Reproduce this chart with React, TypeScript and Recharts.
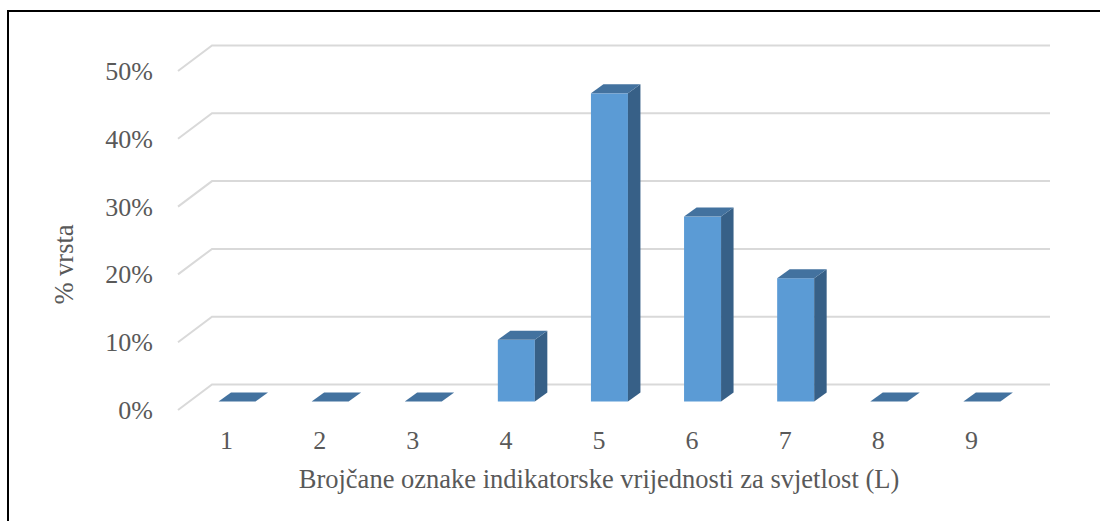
import React from "react";
import { BarChart, Bar, XAxis, YAxis, CartesianGrid, Label } from "recharts";

const categories = ["1", "2", "3", "4", "5", "6", "7", "8", "9"];
const shares = [0, 0, 0, 0.0909, 0.4545, 0.2727, 0.1818, 0, 0];
const yTicks = [0, 0.1, 0.2, 0.3, 0.4, 0.5];

const data = categories.map((name, i) => ({ name, value: shares[i] }));

const FONT = "Liberation Serif";
const TEXT = "#595959";
const tickTxt = { fontFamily: FONT, fontSize: 26, fill: TEXT };
const titleTxt = { fontFamily: FONT, fontSize: 26.5, fill: TEXT };

// oblique 3D offsets (Excel-style depth)
const WALL_DX = 32;
const WALL_DY = -25.5;
const BAR_DX = 10.5;
const BAR_DY = -8.5;
const DEPTH_DX = 12.5;
const DEPTH_DY = -9;

const GridLine = (p: any) => (
  <path
    key={p.key}
    d={`M${p.x1 - 2},${p.y1} L${p.x1 + WALL_DX},${p.y1 + WALL_DY} L${p.x2 + WALL_DX},${p.y1 + WALL_DY}`}
    stroke="#D9D9D9"
    strokeWidth={2}
    fill="none"
  />
);

const Bar3D = (p: any) => {
  const { x, y, width, height } = p;
  const fx = x + BAR_DX;
  const top = y + BAR_DY;
  const bottom = y + height + BAR_DY;
  const r = fx + width;
  return (
    <g>
      {height > 0.5 && (
        <>
          <rect x={fx} y={top} width={width} height={bottom - top} fill="#5B9BD5" />
          <path
            d={`M${r},${top} L${r + DEPTH_DX},${top + DEPTH_DY} L${r + DEPTH_DX},${bottom + DEPTH_DY} L${r},${bottom} Z`}
            fill="#376087"
          />
        </>
      )}
      <path
        d={`M${fx},${top} L${fx + DEPTH_DX},${top + DEPTH_DY} L${r + DEPTH_DX},${top + DEPTH_DY} L${r},${top} Z`}
        fill="#43729F"
      />
    </g>
  );
};

const YTick = (p: any) => (
  <text x={p.x - 19} y={p.y + 9} textAnchor="end" style={tickTxt}>
    {`${Math.round(p.payload.value * 100)}%`}
  </text>
);

const XTick = (p: any) => (
  <text x={p.x} y={p.y + 31} textAnchor="middle" style={tickTxt}>
    {p.payload.value}
  </text>
);

export default function App() {
  return (
    <div style={{ position: "absolute", left: 0, top: 0, width: 1100, height: 521, background: "#fff" }}>
      <div
        style={{
          position: "absolute",
          left: 7,
          top: 10,
          width: 1093,
          height: 511,
          borderTop: "2px solid #000",
          borderLeft: "2px solid #000",
        }}
      />
      <div style={{ position: "absolute", left: 0, top: 0 }}>
        <BarChart
          width={1100}
          height={521}
          data={data}
          margin={{ top: 71, right: 82, bottom: 71, left: 40 }}
        >
          <CartesianGrid vertical={false} horizontal={GridLine} />
          <XAxis dataKey="name" height={40} axisLine={false} tickLine={false} tick={XTick} interval={0}>
            <Label
              content={(lp: any) => (
                <text
                  x={lp.viewBox.x + lp.viewBox.width / 2}
                  y={lp.viewBox.y + 78}
                  textAnchor="middle"
                  style={titleTxt}
                >
                  Brojčane oznake indikatorske vrijednosti za svjetlost (L)
                </text>
              )}
            />
          </XAxis>
          <YAxis
            width={140}
            domain={[0, 0.5]}
            ticks={yTicks}
            axisLine={false}
            tickLine={false}
            tick={YTick}
          >
            <Label
              content={(lp: any) => {
                const cx = lp.viewBox.x + 24;
                const cy = lp.viewBox.y + lp.viewBox.height / 2 + 24;
                return (
                  <text
                    x={cx}
                    y={cy}
                    transform={`rotate(-90, ${cx}, ${cy})`}
                    textAnchor="middle"
                    dominantBaseline="central"
                    style={titleTxt}
                  >
                    % vrsta
                  </text>
                );
              }}
            />
          </YAxis>
          <Bar dataKey="value" barSize={37} shape={Bar3D} isAnimationActive={false} />
        </BarChart>
      </div>
    </div>
  );
}
